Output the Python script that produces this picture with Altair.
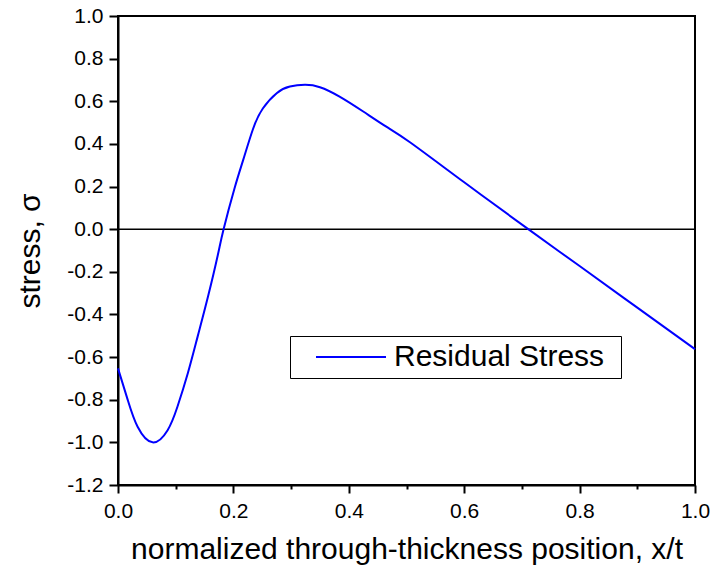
import altair as alt
import pandas as pd

# normalized through-thickness position and residual stress
x_pos = [0.0, 0.017, 0.034, 0.060, 0.086, 0.103, 0.121, 0.138, 0.156, 0.173,
         0.183, 0.202, 0.217, 0.234, 0.251, 0.275, 0.298, 0.324, 0.350, 0.384,
         0.425, 0.465, 0.506, 0.6, 0.711, 0.8, 0.9, 1.0]
stress = [-0.653, -0.802, -0.927, -1.0, -0.943, -0.833, -0.676, -0.504, -0.316, -0.121,
          0.0, 0.192, 0.325, 0.470, 0.566, 0.638, 0.669, 0.677, 0.666, 0.622,
          0.552, 0.481, 0.408, 0.220, 0.0, -0.173, -0.368, -0.563]
series = ["Residual Stress"] * len(x_pos)

x_ticks = [0.0, 0.1, 0.2, 0.3, 0.4, 0.5, 0.6, 0.7, 0.8, 0.9, 1.0]
y_ticks = [-1.2, -1.0, -0.8, -0.6, -0.4, -0.2, 0.0, 0.2, 0.4, 0.6, 0.8, 1.0]
zero_level = [0.0]

df = pd.DataFrame({"x": x_pos, "stress": stress, "series": series})
zero_df = pd.DataFrame({"stress": zero_level})

FONT = "Liberation Sans"

xscale = alt.Scale(domain=[0, 1], nice=False, zero=False)
yscale = alt.Scale(domain=[-1.2, 1.0], nice=False, zero=False)

zero_rule = alt.Chart(zero_df).mark_rule(color="black", strokeWidth=1.5).encode(
    y=alt.Y("stress:Q", scale=yscale)
)

line = alt.Chart(df).mark_line(strokeWidth=2, interpolate="natural").encode(
    x=alt.X(
        "x:Q",
        scale=xscale,
        axis=alt.Axis(
            values=x_ticks,
            title="normalized through-thickness position, x/t",
            labelExpr="round(datum.value*10)%2==0 ? format(datum.value,'.1f') : ''",
            tickSize={"condition": {"test": "round(datum.value*10)%2==0", "value": 8}, "value": 4},
            labelPadding=7,
            labelFlush=False,
            labelOverlap=False,
            titleY=73,
            titleBaseline="alphabetic",
        ),
    ),
    y=alt.Y(
        "stress:Q",
        scale=yscale,
        axis=alt.Axis(
            values=y_ticks,
            title="stress, σ",
            labelExpr="(datum.value < -0.001 ? '-' : '') + format(abs(datum.value), '.1f')",
            tickSize=9,
            labelPadding=6,
            labelFlush=False,
            labelOverlap=False,
            titleX=-88,
            titleY=234.5,
            titleAngle=-90,
            titleAlign="center",
            titleBaseline="middle",
        ),
    ),
    color=alt.Color(
        "series:N",
        scale=alt.Scale(range=["#0000ff"]),
        legend=alt.Legend(
            orient="none",
            legendX=172,
            legendY=320,
            title="\u2800",
            titleOrient="right",
            titleFontSize=13,
            titlePadding=1,
            titleFont=FONT,
            symbolType="M-3.5,0H3.5",
            symbolSize=400,
            symbolStrokeWidth=2,
            symbolOffset=40,
            labelFontSize=30,
            labelFont=FONT,
            labelColor="black",
            labelOffset=28,
            labelLimit=0,
            strokeColor="black",
            fillColor="white",
            padding=6,
        ),
    ),
)

chart = (
    alt.layer(zero_rule, line)
    .properties(
        width=577,
        height=469,
        padding={"left": 118, "top": 16, "right": 15, "bottom": 84},
        autosize="none",
    )
    .configure_view(stroke="black", strokeWidth=2)
    .configure_axis(
        domainColor="black",
        domainWidth=2,
        tickColor="black",
        tickWidth=2,
        grid=False,
        labelFont=FONT,
        labelFontSize=21,
        labelColor="black",
        titleFont=FONT,
        titleFontSize=30,
        titleFontWeight="normal",
        titleColor="black",
    )
)

chart.save("out.html", embed_options={"renderer": "svg", "actions": False})
